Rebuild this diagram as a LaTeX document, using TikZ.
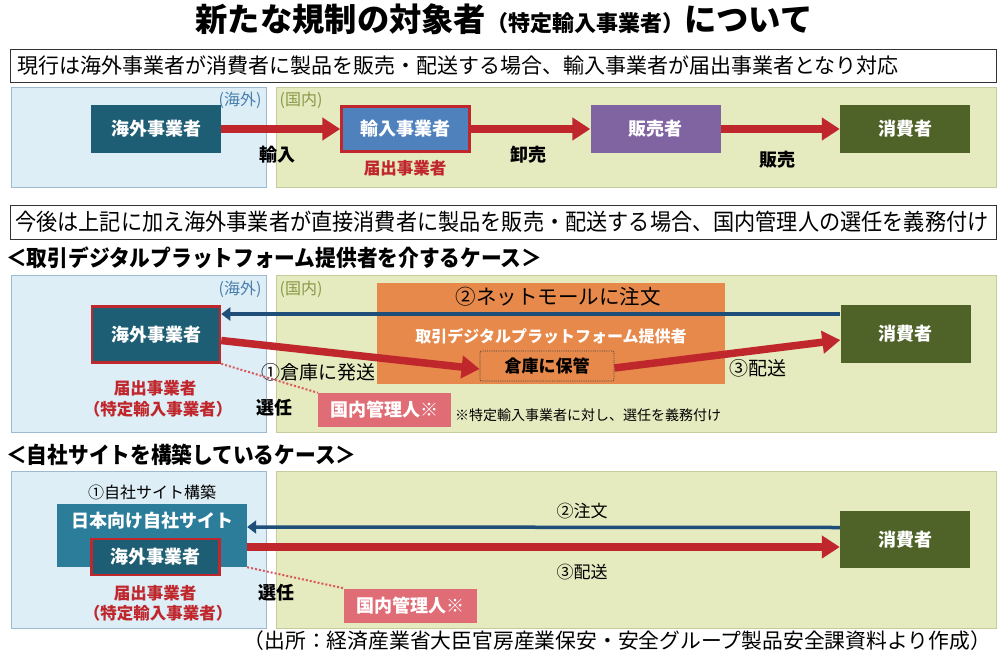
\documentclass[tikz,border=0pt]{standalone}
\usepackage{fontspec}
\usepackage{graphicx}
\setmainfont{Noto Sans CJK JP}
\usetikzlibrary{arrows.meta}
\definecolor{cPanB}{HTML}{DDEEF6}
\definecolor{cPanBb}{HTML}{9DBBD0}
\definecolor{cPanG}{HTML}{E5EABF}
\definecolor{cPanGb}{HTML}{C4CB9C}
\definecolor{cTeal}{HTML}{1E5E74}
\definecolor{cSite}{HTML}{2C7D9A}
\definecolor{cImp}{HTML}{4F81BD}
\definecolor{cPurple}{HTML}{8064A2}
\definecolor{cOlive}{HTML}{4F6228}
\definecolor{cRed}{HTML}{C0272D}
\definecolor{cDot}{HTML}{D9585E}
\definecolor{cNavy}{HTML}{1F4E79}
\definecolor{cOrange}{HTML}{E6894B}
\definecolor{cPink}{HTML}{E06C76}
\definecolor{cBlueTxt}{HTML}{4A7FAE}
\definecolor{cOliveTxt}{HTML}{8A9848}
\newcommand\fsz[1]{\fontsize{#1}{#1}\selectfont}
\tikzset{
  panelB/.style={fill=cPanB,draw=cPanBb,line width=1pt},
  panelG/.style={fill=cPanG,draw=cPanGb,line width=1pt},
  actor/.style={text=white,font=\bfseries\fsz{18},inner sep=0pt,minimum width=130pt,minimum height=48pt},
  redframe/.style={draw=cRed,line width=2.5pt},
  infobox/.style={draw=black!80,line width=1pt,fill=white},
  redarrow/.style={draw=cRed,line width=7.5pt,-{Triangle[length=18pt,width=22pt]}},
  bluearrow/.style={draw=cNavy,line width=3.5pt,-{Triangle[length=9pt,width=13pt]}},
  selink/.style={draw=cDot,line width=2pt,dash pattern=on 2pt off 2pt},
  lbl/.style={font=\bfseries\fsz{18},inner sep=0pt},
  plain/.style={font=\fsz{19},inner sep=0pt},
  redlbl/.style={text=cRed,font=\bfseries\fsz{16.5},inner sep=0pt},
  kanri/.style={fill=cPink,text=white,font=\bfseries\fsz{18},inner sep=0pt,minimum width=133pt,minimum height=34pt},
  heading/.style={font=\bfseries\fsz{22.5},inner sep=0pt,anchor=west},
}
\begin{document}
\begin{tikzpicture}[x=1pt,y=-1pt]
\useasboundingbox[fill=white] (0,0) rectangle (1000,658);
% title
\node[inner sep=0pt] (title) at (504,19) {\bfseries\fsz{32.3}新たな規制の対象者\fsz{22}（特定輸入事業者）\fsz{32.3}について};
% box 1
\node[infobox,anchor=north west,minimum width=986pt,minimum height=33pt] (info1) at (10,49) {};
\node[inner sep=0pt,anchor=west,font=\fsz{21}] (info1t) at (17,65.5) {現行は海外事業者が消費者に製品を販売・配送する場合、輸入事業者が届出事業者となり対応};
% section 1 panels
\draw[panelB] (11,88) rectangle (266,187);
\draw[panelG] (276,88) rectangle (996,187);
\node[text=cBlueTxt,font=\fsz{16},inner sep=0pt] (ov1) at (240,100) {(海外)};
\node[text=cOliveTxt,font=\fsz{16},inner sep=0pt] (dm1) at (301,100) {(国内)};
\node[actor,fill=cTeal] (s1a) at (156,129) {海外事業者};
\node[actor,fill=cImp,redframe,minimum width=128pt,minimum height=45pt] (s1b) at (405.5,129) {輸入事業者};
\node[actor,fill=cPurple] (s1c) at (655.5,129) {販売者};
\node[actor,fill=cOlive] (s1d) at (905,129) {消費者};
\draw[redarrow] (s1a.east) -- (s1b.west);
\draw[redarrow] (s1b.east) -- (s1c.west);
\draw[redarrow] (s1c.east) -- (s1d.west);
\node[lbl] (l1a) at (277,155) {輸入};
\node[lbl] (l1b) at (528,155) {卸売};
\node[lbl] (l1c) at (777,160) {販売};
\node[redlbl] (r1) at (405,168) {届出事業者};
% box 2
\node[infobox,anchor=north west,minimum width=986pt,minimum height=34pt] (info2) at (10,205) {};
\node[inner sep=0pt,anchor=west] (info2t) at (15,222) {\scalebox{0.92}[1]{\fsz{23}今後は上記に加え海外事業者が直接消費者に製品を販売・配送する場合、国内管理人の選任を義務付け}};
\node[heading] (h2) at (6,258) {\scalebox{0.92}[1]{＜取引デジタルプラットフォーム提供者を介するケース＞}};
% section 2 panels
\draw[panelB] (11,275) rectangle (266,432);
\draw[panelG] (276,275) rectangle (996,432);
\node[text=cBlueTxt,font=\fsz{16},inner sep=0pt] (ov2) at (240,289) {(海外)};
\node[text=cOliveTxt,font=\fsz{16},inner sep=0pt] (dm2) at (301,289) {(国内)};
\node[fill=cOrange,minimum width=348pt,minimum height=101pt,inner sep=0pt] (plat) at (551,333.5) {};
\node[font=\fsz{20.5},inner sep=0pt] (order2) at (558,297) {②ネットモールに注文};
\node[text=white,font=\bfseries\fsz{16},inner sep=0pt] (platt) at (551,336) {取引デジタルプラットフォーム提供者};
\node[fill=cOrange,draw=black!75,densely dotted,line width=0.8pt,rounded corners=2pt,minimum width=134pt,minimum height=30pt,inner sep=0pt,font=\bfseries\fsz{17}] (wh) at (547,366) {倉庫に保管};
\node[actor,fill=cTeal,redframe,minimum width=128pt,minimum height=56pt] (s2a) at (156,334.5) {海外事業者};
\node[actor,fill=cOlive,minimum height=58pt] (s2d) at (905.5,334) {消費者};
\draw[bluearrow] ([yshift=20pt]s2d.west) -- ([yshift=20.5pt]s2a.east);
\draw[redarrow] ([yshift=-6pt]s2a.east) -- ([yshift=-3pt]wh.west);
\draw[redarrow] ([yshift=-2pt]wh.east) -- ([yshift=-6pt]s2d.west);
\node[plain] (ship2) at (318,372) {①倉庫に発送};
\node[plain] (del2) at (758,368) {③配送};
\node[kanri] (km2) at (384.5,410) {国内管理人※};
\draw[selink] (s2a.south east) -- (km2.north west);
\node[lbl] (sen2) at (274,408) {選任};
\node[inner sep=0pt,anchor=west,font=\fsz{14}] (note2) at (455,415) {※特定輸入事業者に対し、選任を義務付け};
\node[redlbl] (r2a) at (155,388) {届出事業者};
\node[redlbl] (r2b) at (158,409) {（特定輸入事業者）};
% section 3
\node[heading] (h3) at (6,455) {\scalebox{0.92}[1]{＜自社サイトを構築しているケース＞}};
\draw[panelB] (11,471) rectangle (266,628);
\draw[panelG] (276,471) rectangle (996,628);
\node[font=\fsz{16},inner sep=0pt] (build3) at (152,492) {①自社サイト構築};
\node[fill=cSite,minimum width=190pt,minimum height=63pt,inner sep=0pt] (site) at (152,535.5) {};
\node[text=white,font=\bfseries\fsz{18},inner sep=0pt] (sitet) at (152,521) {日本向け自社サイト};
\node[actor,fill=cTeal,redframe,minimum width=128pt,minimum height=36pt] (s3a) at (155.5,557) {海外事業者};
\node[actor,fill=cOlive,minimum height=57pt] (s3d) at (905,539.5) {消費者};
\draw[bluearrow] ([yshift=12pt]s3d.west) -- ([yshift=8.5pt]site.east);
\draw[redarrow] ([yshift=-11.5pt]site.east) -- ([yshift=-7.5pt]s3d.west);
\node[font=\fsz{17},inner sep=0pt] (order3) at (582,511) {②注文};
\node[font=\fsz{17},inner sep=0pt] (del3) at (582,572) {③配送};
\node[kanri] (km3) at (410.5,605.5) {国内管理人※};
\draw[selink] (site.south east) -- (km3.north west);
\node[lbl] (sen3) at (276,593) {選任};
\node[redlbl] (r3a) at (155,593) {届出事業者};
\node[redlbl] (r3b) at (158,613) {（特定輸入事業者）};
% footer
\node[inner sep=0pt,anchor=east,font=\fsz{20.8}] (src) at (991,641) {（出所：経済産業省大臣官房産業保安・安全グループ製品安全課資料より作成）};
\end{tikzpicture}
\end{document}
